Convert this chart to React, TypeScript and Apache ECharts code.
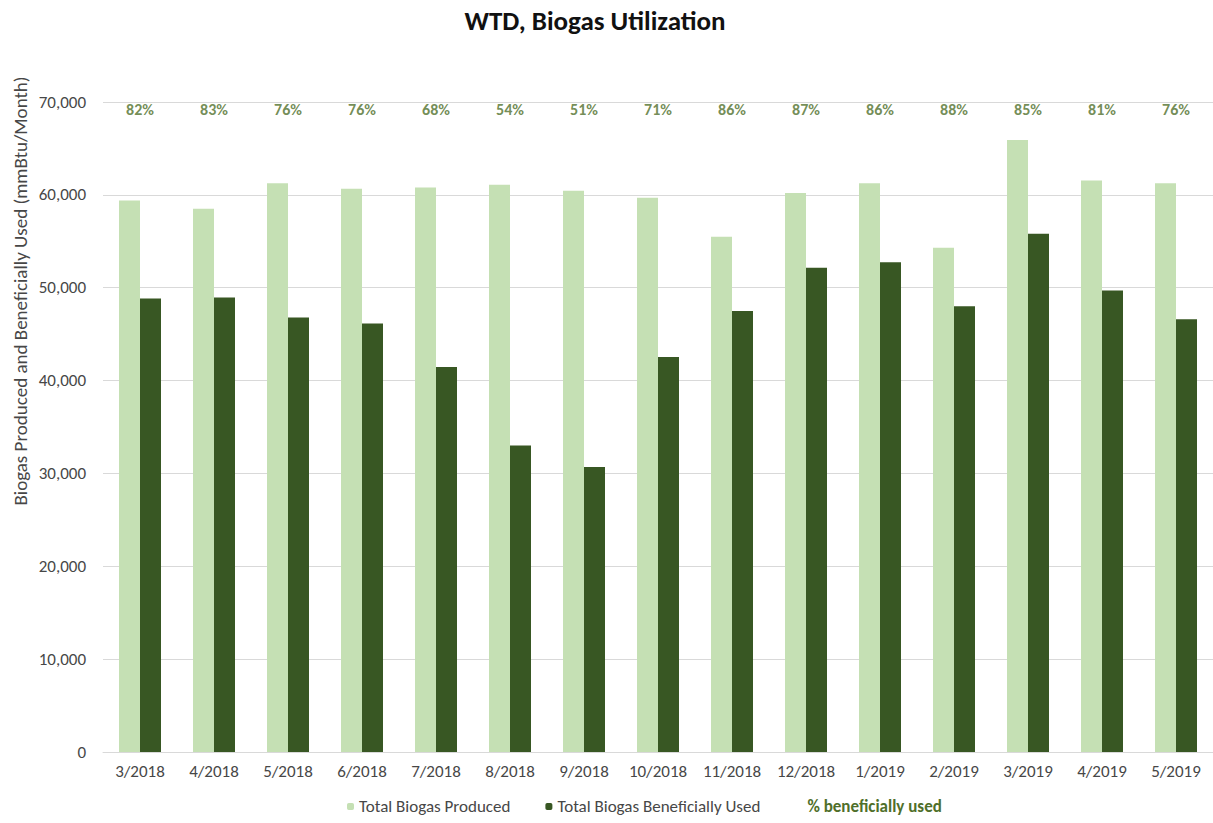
import React, { useEffect, useRef } from "react";
import * as echarts from "echarts";

const categories = ["3/2018", "4/2018", "5/2018", "6/2018", "7/2018", "8/2018", "9/2018", "10/2018", "11/2018", "12/2018", "1/2019", "2/2019", "3/2019", "4/2019", "5/2019"];
const produced = [59400, 58500, 61250, 60650, 60800, 61100, 60450, 59700, 55500, 60200, 61250, 54300, 65900, 61550, 61250];
const used = [48850, 48950, 46800, 46150, 41450, 33000, 30700, 42550, 47500, 52150, 52750, 48000, 55800, 49700, 46600];
const pctUsed = [82, 83, 76, 76, 68, 54, 51, 71, 86, 87, 86, 88, 85, 81, 76];
const Y_MIN = 0;
const Y_MAX = 70000;
const Y_STEP = 10000;

const FONT = 'Carlito, "Liberation Sans Narrow", "Open Sans", "Noto Sans", sans-serif';
const LIGHT = "#c5e0b4";
const DARK = "#385723";
const PCT_COLOR = "#4f6f2a";
const TEXT = "#474747";

export default function App() {
  const ref = useRef<HTMLDivElement>(null);
  useEffect(() => {
    document.body.style.margin = "0";
    const chart = echarts.init(ref.current!, null, { renderer: "svg" });
    chart.setOption({
      animation: false,
      backgroundColor: "#ffffff",
      textStyle: { fontFamily: FONT },
      title: {
        text: "WTD, Biogas Utilization",
        left: 590,
        textAlign: "center",
        top: 2,
        textStyle: { fontFamily: FONT, fontSize: 27, fontWeight: "bold", color: "#111111" },
      },
      graphic: [
        {
          type: "text",
          x: 20,
          y: 291,
          rotation: Math.PI / 2,
          style: {
            text: "Biogas Produced and Beneficially Used (mmBtu/Month)",
            fontFamily: FONT,
            fontSize: 19,
            fill: TEXT,
            align: "center",
            verticalAlign: "middle",
          },
        },
      ],
      legend: {
        bottom: 3,
        left: 342,
        itemWidth: 7,
        itemHeight: 7,
        itemGap: 35,
        textStyle: { fontFamily: FONT, fontSize: 17, color: TEXT },
        data: [
          { name: "Total Biogas Produced" },
          { name: "Total Biogas Beneficially Used" },
          { name: "% beneficially used", itemStyle: { opacity: 0 }, textStyle: { color: PCT_COLOR, fontWeight: "bold" } },
        ],
      },
      grid: { left: 103, right: 0, top: 102, bottom: 71, containLabel: false },
      xAxis: {
        type: "category",
        data: categories,
        axisLine: { lineStyle: { color: "#d9d9d9" } },
        axisTick: { show: false },
        axisLabel: { fontFamily: FONT, fontSize: 17, color: TEXT, margin: 11, interval: 0, hideOverlap: false },
      },
      yAxis: {
        type: "value",
        min: Y_MIN,
        max: Y_MAX,
        interval: Y_STEP,
        axisLine: { show: false },
        axisTick: { show: false },
        splitLine: { lineStyle: { color: "#d9d9d9" } },
        axisLabel: {
          fontFamily: FONT,
          fontSize: 17,
          color: TEXT,
          margin: 17,
          formatter: (v: number) => v.toLocaleString("en-US"),
        },
      },
      series: [
        {
          name: "Total Biogas Produced",
          type: "bar",
          data: produced,
          barWidth: 21,
          barGap: "0%",
          itemStyle: { color: LIGHT },
        },
        {
          name: "Total Biogas Beneficially Used",
          type: "bar",
          data: used,
          barWidth: 21,
          barGap: "0%",
          itemStyle: { color: DARK },
        },
        {
          name: "% beneficially used",
          type: "scatter",
          symbolSize: 0,
          itemStyle: { color: PCT_COLOR },
          data: categories.map((c, i) => [c, Y_MAX, pctUsed[i]]),
          label: {
            show: true,
            position: "bottom",
            distance: -1,
            fontFamily: FONT,
            fontSize: 16,
            fontWeight: "bold",
            color: PCT_COLOR,
            formatter: (p: any) => p.value[2] + "%",
          },
        },
      ],
    });
    return () => chart.dispose();
  }, []);
  return <div ref={ref} style={{ width: 1213, height: 823 }} />;
}
